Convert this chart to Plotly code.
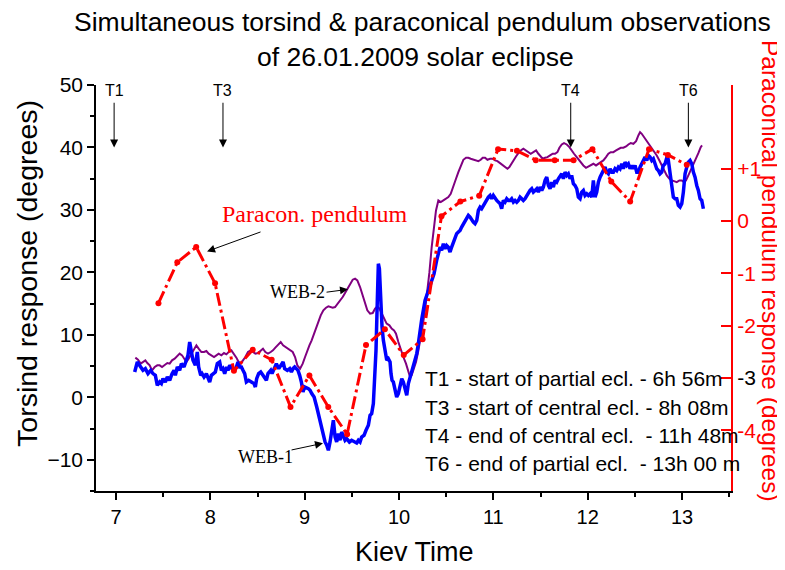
import plotly.graph_objects as go

# ---------------- data ----------------
# WEB-1 (torsind, blue)  time [h]  / response [deg]
t_web1 = [7.198, 7.226, 7.262, 7.286, 7.311, 7.339, 7.368, 7.392, 7.417, 7.438, 7.463, 7.481, 7.498, 7.523, 7.544,
          7.569, 7.594, 7.615, 7.629, 7.650, 7.675, 7.693, 7.721, 7.746, 7.763, 7.781, 7.799, 7.816, 7.841, 7.862,
          7.876, 7.898, 7.912, 7.933, 7.958, 7.975, 7.993, 8.011, 8.028, 8.053, 8.074, 8.099, 8.117, 8.134, 8.152,
          8.173, 8.187, 8.205, 8.230, 8.258, 8.276, 8.293, 8.311, 8.329, 8.346, 8.364, 8.382, 8.406, 8.435, 8.463,
          8.477, 8.491, 8.512, 8.534, 8.558, 8.576, 8.594, 8.611, 8.640, 8.654, 8.682, 8.700, 8.725, 8.746, 8.771,
          8.788, 8.816, 8.841, 8.859, 8.876, 8.894, 8.912, 8.929, 8.947, 8.965, 8.982, 9.000, 9.039, 9.057, 9.075,
          9.100, 9.128, 9.145, 9.163, 9.181, 9.198, 9.216, 9.234, 9.251, 9.269, 9.286, 9.304, 9.322, 9.339, 9.357,
          9.375, 9.392, 9.410, 9.428, 9.445, 9.474, 9.498, 9.523, 9.551, 9.569, 9.587, 9.604, 9.629, 9.650, 9.675,
          9.693, 9.710, 9.728, 9.746, 9.756, 9.770, 9.781, 9.792, 9.806, 9.820, 9.834, 9.852, 9.870, 9.887, 9.905,
          9.915, 9.926, 9.940, 9.958, 9.975, 9.993, 10.011, 10.029, 10.046, 10.064, 10.082, 10.099, 10.117, 10.135,
          10.152, 10.170, 10.188, 10.205, 10.223, 10.240, 10.276, 10.311, 10.346, 10.371, 10.399, 10.417, 10.435,
          10.452, 10.470, 10.488, 10.505, 10.523, 10.541, 10.558, 10.576, 10.594, 10.611, 10.629, 10.647, 10.664,
          10.682, 10.700, 10.718, 10.735, 10.753, 10.771, 10.788, 10.806, 10.824, 10.841, 10.859, 10.876, 10.894,
          10.912, 10.929, 10.947, 10.965, 10.982, 11.000, 11.018, 11.036, 11.053, 11.071, 11.088, 11.106, 11.124,
          11.142, 11.159, 11.177, 11.194, 11.212, 11.230, 11.248, 11.265, 11.283, 11.301, 11.318, 11.336, 11.354,
          11.371, 11.389, 11.407, 11.424, 11.442, 11.460, 11.477, 11.495, 11.513, 11.530, 11.548, 11.566, 11.583,
          11.601, 11.619, 11.636, 11.654, 11.672, 11.689, 11.707, 11.725, 11.742, 11.760, 11.778, 11.795, 11.813,
          11.830, 11.848, 11.866, 11.884, 11.901, 11.919, 11.937, 11.954, 11.972, 11.990, 12.007, 12.025, 12.043,
          12.060, 12.078, 12.096, 12.113, 12.131, 12.149, 12.166, 12.184, 12.202, 12.219, 12.237, 12.255, 12.272,
          12.290, 12.308, 12.325, 12.343, 12.361, 12.378, 12.396, 12.414, 12.431, 12.449, 12.467, 12.484, 12.502,
          12.520, 12.537, 12.555, 12.573, 12.590, 12.608, 12.626, 12.643, 12.661, 12.679, 12.696, 12.714, 12.732,
          12.749, 12.767, 12.785, 12.802, 12.820, 12.831, 12.845, 12.855, 12.866, 12.880, 12.891, 12.908, 12.926,
          12.944, 12.961, 12.979, 12.997, 13.014, 13.032, 13.050, 13.067, 13.085, 13.103, 13.120, 13.138, 13.156,
          13.173, 13.191, 13.209, 13.226]
deg_web1 = [4.05, 5.65, 4.85, 4.32, 4.59, 3.79, 4.32, 3.79, 3.52, 1.92, 2.45, 2.19, 2.99, 2.45, 3.25,
            2.72, 3.79, 4.32, 3.52, 4.85, 4.32, 5.39, 4.85, 5.92, 6.72, 8.85, 6.99, 5.92, 5.12, 7.25,
            4.85, 3.52, 3.79, 3.25, 3.79, 2.99, 2.45, 3.52, 3.79, 4.05, 5.39, 5.65, 4.32, 4.59, 3.79,
            4.85, 4.32, 5.12, 4.59, 4.32, 4.85, 5.65, 4.85, 4.85, 4.32, 3.79, 2.45, 2.72, 2.45, 2.19,
            1.65, 2.99, 3.79, 4.05, 3.52, 2.99, 2.72, 3.79, 4.32, 3.79, 4.85, 5.39, 4.59, 5.12, 5.65,
            4.59, 4.32, 4.59, 4.05, 4.59, 4.85, 4.59, 4.32, 3.52, 2.45, 0.85, 1.65, 1.39, 1.12, 0.59,
            0.05, -1.55, -2.61, -3.68, -4.75, -6.08, -7.15, -7.68, -8.48, -7.15, -5.55, -3.68, -6.35, -7.15, -5.81,
            -6.88, -5.55, -6.35, -6.88, -6.61, -7.15, -6.88, -7.15, -7.31, -6.88, -7.15, -6.35, -6.08, -5.28, -4.48,
            -2.88, -2.61, -1.01, 3.79, 7.52, 15.52, 21.39, 20.59, 15.52, 11.25, 9.12, 6.99, 5.92, 6.19, 5.65,
            3.79, 2.72, 2.45, 1.12, 0.05, 0.59, 2.19, 2.99, 2.45, 1.12, 0.32, 2.19, 3.25, 4.32,
            5.39, 5.92, 6.99, 8.59, 11.25, 12.40, 15.52, 17.12, 18.99, 19.79, 21.92, 22.99, 24.05,
            23.52, 24.59, 23.79, 24.32, 24.05, 23.25, 24.05, 24.85, 25.65, 26.19, 26.45, 26.72, 27.25,
            27.79, 28.32, 28.85, 29.12, 28.85, 28.32, 28.05, 27.79, 28.32, 29.92, 30.45, 30.19, 30.72,
            31.25, 31.52, 32.05, 32.32, 31.79, 32.32, 31.79, 31.52, 31.25, 30.99, 30.19, 31.52, 31.25,
            31.79, 31.52, 31.52, 31.79, 31.25, 31.52, 31.25, 31.52, 32.05, 31.79, 31.52, 31.79, 32.32,
            32.59, 33.12, 33.39, 32.85, 33.12, 33.39, 32.85, 33.65, 33.12, 33.65, 34.72, 35.25, 33.92,
            33.39, 34.45, 33.65, 34.72, 34.45, 34.99, 35.52, 35.79, 34.99, 36.05, 35.52, 35.79, 34.99,
            35.52, 34.19, 33.92, 33.39, 32.05, 31.79, 32.85, 33.12, 32.32, 32.59, 32.32, 32.59, 32.05,
            34.72, 32.05, 32.85, 34.45, 35.25, 35.79, 36.32, 36.85, 36.05, 35.79, 36.59, 36.05, 36.05,
            36.59, 36.32, 36.85, 36.59, 37.39, 36.59, 37.65, 37.12, 37.39, 36.59, 37.12, 36.59, 37.12,
            36.05, 36.05, 36.85, 37.39, 38.19, 38.45, 37.92, 38.72, 38.45, 37.92, 38.19, 37.39, 36.59,
            36.32, 35.79, 36.05, 37.12, 37.39, 37.92, 38.72, 37.92, 36.32, 35.25, 33.92, 32.05, 31.79,
            31.79, 30.72, 30.45, 30.99, 32.85, 35.79, 36.85, 37.65, 37.92, 37.39, 36.05, 35.25, 33.92,
            33.12, 31.79, 31.52, 30.19]

# WEB-2 (torsind, purple)
t_web2 = [7.205, 7.233, 7.262, 7.286, 7.311, 7.332, 7.357, 7.382, 7.410, 7.438, 7.463, 7.488, 7.516, 7.544, 7.569,
          7.594, 7.622, 7.650, 7.675, 7.700, 7.721, 7.746, 7.770, 7.799, 7.827, 7.852, 7.876, 7.905, 7.933, 7.958,
          7.982, 8.011, 8.039, 8.064, 8.088, 8.117, 8.145, 8.170, 8.194, 8.223, 8.251, 8.276, 8.300, 8.322, 8.346,
          8.371, 8.399, 8.428, 8.452, 8.477, 8.505, 8.534, 8.558, 8.583, 8.611, 8.640, 8.664, 8.689, 8.717, 8.746,
          8.771, 8.795, 8.823, 8.845, 8.873, 8.898, 8.922, 8.951, 8.979, 9.004, 9.028, 9.050, 9.074, 9.099, 9.120,
          9.145, 9.170, 9.198, 9.226, 9.251, 9.269, 9.297, 9.322, 9.346, 9.375, 9.403, 9.428, 9.452, 9.481, 9.509,
          9.534, 9.558, 9.587, 9.615, 9.640, 9.664, 9.693, 9.721, 9.746, 9.770, 9.792, 9.816, 9.841, 9.869, 9.898,
          9.922, 9.947, 9.968, 9.993, 10.018, 10.046, 10.074, 10.099, 10.117, 10.134, 10.152, 10.180, 10.205, 10.230,
          10.251, 10.276, 10.301, 10.322, 10.346, 10.364, 10.392, 10.417, 10.442, 10.470, 10.498, 10.523, 10.548,
          10.576, 10.604, 10.629, 10.654, 10.682, 10.710, 10.735, 10.760, 10.788, 10.816, 10.841, 10.866, 10.887,
          10.912, 10.937, 10.965, 10.993, 11.018, 11.043, 11.071, 11.099, 11.124, 11.149, 11.170, 11.194, 11.219,
          11.240, 11.265, 11.290, 11.318, 11.347, 11.371, 11.396, 11.424, 11.453, 11.477, 11.502, 11.523, 11.548,
          11.573, 11.601, 11.629, 11.654, 11.679, 11.700, 11.725, 11.749, 11.778, 11.806, 11.831, 11.855, 11.884,
          11.912, 11.926, 11.954, 11.982, 12.007, 12.032, 12.060, 12.088, 12.113, 12.138, 12.166, 12.194, 12.219,
          12.244, 12.272, 12.301, 12.325, 12.350, 12.378, 12.407, 12.431, 12.456, 12.484, 12.513, 12.537, 12.555,
          12.573, 12.598, 12.626, 12.654, 12.679, 12.703, 12.732, 12.760, 12.785, 12.809, 12.838, 12.866, 12.891,
          12.915, 12.944, 12.972, 12.997, 13.021, 13.042, 13.067, 13.092, 13.120, 13.149, 13.173, 13.198, 13.212]
deg_web2 = [6.35, 6.03, 5.39, 5.65, 5.92, 5.49, 5.12, 4.32, 4.85, 5.12, 5.12, 4.85, 5.12, 5.49, 5.39,
            5.92, 6.19, 6.56, 6.99, 6.72, 6.19, 5.65, 6.19, 6.99, 7.79, 8.32, 7.79, 7.25, 7.25, 7.41,
            6.99, 6.72, 6.45, 6.72, 6.99, 6.72, 7.09, 6.88, 7.25, 7.52, 6.99, 6.35, 5.65, 5.39, 5.92,
            6.45, 7.25, 7.52, 7.25, 6.99, 7.09, 7.52, 7.79, 7.25, 6.99, 7.25, 7.52, 7.95, 8.48, 8.85,
            8.32, 8.05, 7.79, 7.52, 7.25, 6.45, 5.12, 4.59, 5.39, 6.45, 7.52, 8.32, 9.12, 10.19, 11.25,
            12.32, 13.12, 13.92, 14.35, 14.56, 14.45, 14.35, 14.45, 14.88, 15.52, 16.05, 16.69, 17.39, 18.19, 18.83,
            18.99, 18.72, 17.65, 16.32, 14.99, 13.92, 13.39, 13.49, 14.19, 14.56, 14.19, 13.39, 12.59, 11.79, 11.52,
            10.99, 10.72, 10.19, 8.85, 7.52, 6.45, 5.39, 4.05, 3.25, 3.52, 4.32, 5.65, 7.50, 9.50,
            11.50, 14.00, 17.00, 20.00, 24.00, 26.50, 29.92, 31.52, 31.25, 31.52, 31.79, 32.05, 32.59,
            33.65, 34.99, 36.05, 37.12, 38.03, 38.35, 38.35, 38.19, 38.03, 37.92, 37.81, 38.03, 38.35,
            38.35, 38.03, 38.19, 38.19, 37.92, 37.81, 37.49, 37.12, 36.85, 36.59, 36.85, 37.49, 38.03,
            38.56, 39.09, 39.52, 39.79, 39.52, 39.25, 38.99, 39.25, 39.52, 38.99, 38.56, 38.19, 38.35,
            38.45, 38.72, 38.99, 38.99, 39.25, 39.95, 40.48, 40.69, 40.48, 40.05, 39.41, 38.99, 38.45,
            37.92, 37.49, 37.12, 36.75, 36.96, 37.12, 37.39, 37.12, 37.39, 37.65, 37.92, 38.45, 38.99,
            39.25, 39.25, 39.52, 39.79, 39.95, 39.95, 40.16, 40.48, 40.69, 40.59, 41.01, 41.92, 42.45,
            42.19, 41.65, 41.12, 40.59, 40.05, 39.41, 38.72, 37.92, 37.12, 36.32, 35.52, 34.99, 34.72,
            34.61, 34.45, 34.72, 34.72, 34.45, 34.72, 35.52, 36.32, 37.28, 38.19, 39.09, 40.05, 40.32]

# Paraconical pendulum (red, right axis)
t_para = [7.45, 7.65, 7.85, 8.05, 8.25, 8.45, 8.65, 8.85, 9.05, 9.25, 9.45, 9.65, 9.85, 10.05, 10.25,
          10.45, 10.65, 10.85, 11.05, 11.25, 11.45, 11.65, 11.85, 12.05, 12.25, 12.45, 12.65, 12.85, 13.05]
deg_para = [-1.57, -0.79, -0.50, -1.19, -2.86, -2.46, -2.65, -3.55, -2.95, -3.55, -4.07, -2.37, -2.07, -2.56, -2.26,
            0.09, 0.37, 0.48, 1.37, 1.34, 1.16, 1.16, 1.16, 1.37, 0.75, 0.37, 1.37, 1.26, 1.07]

x_ticks = [7, 8, 9, 10, 11, 12, 13]
y_ticks = [-10, 0, 10, 20, 30, 40, 50]
y2_ticks = [1, 0, -1, -2, -3, -4]
y2_ticktext = ["+1", "0", "-1", "-2", "<span style='color:black'>-3</span>", "-4"]

# eclipse contact labels: (label, time, label y, arrow tail y, arrow tip y)
contacts = [("T1", 6.98, 49.1, 47.4, 40.0),
            ("T3", 8.134, 49.1, 47.4, 40.0),
            ("T4", 11.82, 49.1, 47.4, 40.0),
            ("T6", 13.067, 49.1, 47.4, 40.0)]
legend_lines = ["T1 - start of partial ecl. - 6h 56m",
                "T3 - start of central ecl. - 8h 08m",
                "T4 - end of central ecl.\u00a0 - 11h 48m",
                "T6 - end of partial ecl.\u00a0 - 13h 00 m"]

SANS = "Liberation Sans, Arial, sans-serif"
SERIF = "Liberation Serif, Times New Roman, serif"

fig = go.Figure()
fig.add_trace(go.Scatter(x=t_web2, y=deg_web2, mode="lines",
                         line=dict(color="#800080", width=2), name="WEB-2"))
fig.add_trace(go.Scatter(x=t_web1, y=deg_web1, mode="lines",
                         line=dict(color="#0000ff", width=3.5), name="WEB-1"))
fig.add_trace(go.Scatter(x=t_para, y=deg_para, mode="lines+markers", yaxis="y2",
                         line=dict(color="#ff0000", width=3, dash="13px,4px,3px,4px"),
                         marker=dict(color="#ff0000", size=6), name="Paracon. pendulum"))

ann = []
for lab, tx, ly, tail, tip in contacts:
    ann.append(dict(x=tx, y=ly, xref="x", yref="y", text=lab, showarrow=False,
                    font=dict(family=SANS, size=16, color="black")))
    ann.append(dict(x=tx, y=tip, ax=tx, ay=tail, xref="x", yref="y", axref="x", ayref="y",
                    text="", showarrow=True, arrowhead=2, arrowsize=1.6, arrowwidth=1,
                    arrowcolor="black", standoff=0, startstandoff=0))

# Paracon. pendulum label + arrow
ann.append(dict(x=9.11, y=29.4, xref="x", yref="y", text="Paracon. pendulum", showarrow=False,
                font=dict(family=SERIF, size=24, color="#ff0000")))
ann.append(dict(x=7.965, y=23.36, ax=8.548, ay=26.56, xref="x", yref="y", axref="x", ayref="y",
                text="", showarrow=True, arrowhead=2, arrowsize=1.6, arrowwidth=1, arrowcolor="black"))
# WEB-2
ann.append(dict(x=8.92, y=16.8, xref="x", yref="y", text="WEB-2", showarrow=False,
                font=dict(family=SERIF, size=18, color="black")))
ann.append(dict(x=9.459, y=17.28, ax=9.216, ay=16.8, xref="x", yref="y", axref="x", ayref="y",
                text="", showarrow=True, arrowhead=2, arrowsize=1.6, arrowwidth=1, arrowcolor="black"))
# WEB-1
ann.append(dict(x=8.58, y=-9.6, xref="x", yref="y", text="WEB-1", showarrow=False,
                font=dict(family=SERIF, size=18, color="black")))
ann.append(dict(x=9.194, y=-7.36, ax=8.845, ay=-8.48, xref="x", yref="y", axref="x", ayref="y",
                text="", showarrow=True, arrowhead=2, arrowsize=1.6, arrowwidth=1, arrowcolor="black"))

# contact times block
for line, yv in zip(legend_lines, [3.04, -1.6, -6.08, -10.56]):
    ann.append(dict(x=10.254, y=yv, xref="x", yref="y", text=line, showarrow=False,
                    xanchor="left", yanchor="middle", font=dict(family=SANS, size=21, color="black")))

# titles (paper coords; plot area = 635 x 406 px)
def paper_text(x, y, text, size, color="black", angle=0):
    return dict(x=x, y=y, xref="paper", yref="paper", showarrow=False, text=text,
                xanchor="center", yanchor="middle", textangle=angle,
                font=dict(family=SANS, size=size, color=color))

ann.append(paper_text(0.5134, 1.155, "Simultaneous torsind & paraconical pendulum observations", 26.5))
ann.append(paper_text(0.5024, 1.069, "of 26.01.2009 solar eclipse", 26.5))
ann.append(paper_text(-0.1087, 0.537, "Torsind response (degrees)", 28.5, angle=-90))
ann.append(paper_text(1.0614, 0.542, "Paraconical pendulum response (degrees)", 24.5, color="#ff0000", angle=90))
ann.append(paper_text(0.5008, -0.150, "Kiev Time", 27))

# the page body has an 8px margin, so the figure is 8px smaller than the window
fig.update_layout(
    width=777, height=562,
    margin=dict(l=88, r=54, t=77, b=79, autoexpand=False),
    paper_bgcolor="white", plot_bgcolor="white",
    showlegend=False,
    font=dict(family=SANS, color="black"),
    annotations=ann,
    xaxis=dict(range=[6.788, 13.519], tickvals=x_ticks, showgrid=False, zeroline=False,
               showline=True, linecolor="black", linewidth=1.5, automargin=False,
               ticks="outside", ticklen=7, tickwidth=1.5, tickcolor="black",
               minor=dict(dtick=0.5, tick0=7, ticks="outside", ticklen=4, tickwidth=1.5, tickcolor="black"),
               tickfont=dict(size=20, family=SANS)),
    yaxis=dict(range=[-15, 50], tickvals=y_ticks, showgrid=False, zeroline=False,
               showline=True, linecolor="black", linewidth=1.5, automargin=False,
               ticks="outside", ticklen=7, tickwidth=1.5, tickcolor="black",
               minor=dict(dtick=5, tick0=0, ticks="outside", ticklen=4, tickwidth=1.5, tickcolor="black"),
               tickfont=dict(size=21, family=SANS)),
    yaxis2=dict(overlaying="y", side="right", anchor="x", range=[-5.155, 2.594], automargin=False,
                tickvals=y2_ticks, ticktext=y2_ticktext, showgrid=False, zeroline=False,
                showline=True, linecolor="#ff0000", linewidth=2,
                ticks="inside", ticklen=10, tickwidth=2, tickcolor="#ff0000",
                tickfont=dict(size=21, family=SANS, color="#ff0000")),
)

fig.write_html("out.html")
